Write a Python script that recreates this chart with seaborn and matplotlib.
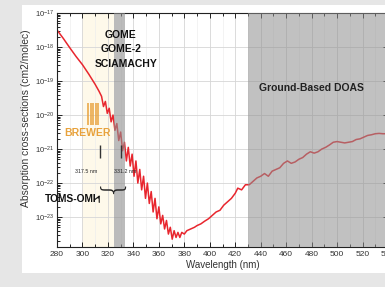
import numpy as np
import pandas as pd
import matplotlib.pyplot as plt
import seaborn as sns
from matplotlib.patches import Rectangle
from matplotlib.ticker import MultipleLocator, LogLocator, LogFormatterMathtext, NullFormatter

# O3 absorption cross-section (log10 of cm2/molec)
wavelength = [280, 285, 290, 295, 300, 305, 310, 313, 315, 316.5, 318, 319.5, 321, 322.5,
              324, 325.5, 327, 328.5, 330, 331.5, 333, 334.5, 336, 337.5, 339, 340.5, 342,
              343.5, 345, 346.5, 348, 349.5, 351, 352.5, 354, 355.5, 357, 358.5, 360, 361.5,
              363, 364.5, 366, 367.5, 369, 370.5, 372, 373.5, 375, 376.5, 378, 380, 382, 385,
              388, 390, 393, 396, 399, 402, 405, 408, 411, 414, 417, 420, 422, 425, 428, 431,
              434, 437, 440, 443, 446, 449, 452, 455, 458, 461, 464, 467, 470, 473, 476, 479,
              482, 485, 488, 491, 494, 497, 500, 503, 506, 509, 512, 515, 518, 521, 524, 527,
              530, 533, 536, 540]
log_sigma = [-17.5, -17.75, -18.02, -18.28, -18.52, -18.8, -19.1, -19.3, -19.45, -19.75,
             -19.6, -19.95, -19.8, -20.2, -20.0, -20.45, -20.25, -20.75, -20.5, -21.05, -20.8,
             -21.35, -20.95, -21.5, -21.15, -21.8, -21.35, -22.0, -21.6, -22.2, -21.8, -22.45,
             -22.0, -22.6, -22.25, -22.85, -22.45, -23.05, -22.7, -23.2, -22.95, -23.35, -23.1,
             -23.5, -23.3, -23.65, -23.4, -23.6, -23.45, -23.6, -23.45, -23.5, -23.4, -23.35,
             -23.3, -23.25, -23.2, -23.12, -23.05, -22.95, -22.85, -22.8, -22.65, -22.55,
             -22.45, -22.3, -22.15, -22.2, -22.05, -22.05, -21.95, -21.85, -21.8, -21.72,
             -21.8, -21.65, -21.6, -21.55, -21.42, -21.35, -21.42, -21.38, -21.3, -21.25,
             -21.15, -21.08, -21.12, -21.08, -21.0, -20.95, -20.88, -20.8, -20.78, -20.8,
             -20.82, -20.8, -20.78, -20.72, -20.7, -20.65, -20.6, -20.58, -20.55, -20.54,
             -20.55, -20.55]

brewer_lines = [304.5, 306.5, 308.5, 310.5, 312.5]
toms_lines = [314, 330]

df = pd.DataFrame({'Wavelength': wavelength, 'Sigma': np.power(10.0, log_sigma)})

sns.set_style("ticks")
plt.rcParams['font.family'] = ['Liberation Sans', 'DejaVu Sans']

fig = plt.figure(figsize=(3.85, 2.87), dpi=100)
fig.patch.set_facecolor('#e6e6e6')
# white panel behind the chart
fig.patches.append(Rectangle((22 / 385, 1 - 273 / 287), 1, (273 - 5) / 287,
                             transform=fig.transFigure, facecolor='white', edgecolor='none', zorder=-5))

ax = fig.add_axes([57 / 385, 1 - 247 / 287, (388 - 57) / 385, (247 - 13) / 287])
ax.set_facecolor('none')
ax.set_zorder(2)

# shaded regions
ax.axvspan(300, 325, color='#fef9ea', zorder=0, lw=0)
ax.axvspan(324.5, 333.5, color='#8f8f8f', alpha=0.6, zorder=3, lw=0)
ax.axvspan(430, 545, color='#8f8f8f', alpha=0.55, zorder=3, lw=0)

sns.lineplot(data=df, x='Wavelength', y='Sigma', color='#e8262e', lw=1.1, ax=ax, zorder=2)

ax.set_yscale('log')
ax.set_xlim(280, 540)
ax.set_ylim(10 ** -23.88, 1e-17)

ax.xaxis.set_major_locator(MultipleLocator(20))
ax.xaxis.set_minor_locator(MultipleLocator(10))
ax.yaxis.set_major_locator(LogLocator(base=10, numticks=20))
ax.yaxis.set_minor_locator(LogLocator(base=10, subs=np.arange(2, 10), numticks=20))
ax.yaxis.set_major_formatter(LogFormatterMathtext())
ax.yaxis.set_minor_formatter(NullFormatter())
ax.tick_params(which='both', direction='in', top=True, right=True, colors='#222222',
               labelcolor='#333333', labelsize=6, width=0.7)
ax.tick_params(which='major', length=3.5, pad=3)
ax.tick_params(which='minor', length=2)
ax.tick_params(axis='y', labelsize=5.5, pad=2)
ax.grid(which='major', color='#d6d6d6', lw=0.6)
ax.grid(which='minor', axis='x', color='#eeeeee', lw=0.5)
ax.set_axisbelow(True)
for s in ax.spines.values():
    s.set_linewidth(0.8)
    s.set_color('#222222')

ax.set_xlabel('Wavelength (nm)', fontsize=7, color='#333333', labelpad=1)
ax.set_ylabel('Absorption cross-sections (cm2/molec)', fontsize=7.4, color='#333333')
ax.yaxis.set_label_coords(-0.079, 0.551)

# instrument annotations
bold = dict(fontweight='bold', ha='center', va='center', zorder=5)
ax.text(330.2, 10 ** -17.65, 'GOME', fontsize=7.5, color='#111111', **bold)
ax.text(330.2, 10 ** -18.06, 'GOME-2', fontsize=7.5, color='#111111', **bold)
ax.text(334, 10 ** -18.5, 'SCIAMACHY', fontsize=7.5, color='#111111', **bold)
ax.text(480, 10 ** -19.2, 'Ground-Based DOAS', fontsize=7.5, color='#222222', **bold)
ax.text(304, 10 ** -20.53, 'BREWER', fontsize=7.5, color='#e8a23c', **bold)
ax.text(290.5, 10 ** -22.48, 'TOMS-OMI', fontsize=7.4, color='#111111', **bold)

ax.vlines(brewer_lines, 10 ** -20.3, 10 ** -19.65, color='#e8a23c', lw=1.1, zorder=5)
ax.vlines(toms_lines, 10 ** -21.26, 10 ** -20.88, color='#333333', lw=1.0, zorder=5)
ax.text(303, 10 ** -21.66, '317.5 nm', fontsize=3.8, ha='center', va='center', zorder=5)
ax.text(333.5, 10 ** -21.66, '331.2 nm', fontsize=3.8, ha='center', va='center', zorder=5)
ax.text(321.6, 10 ** -22.04, '{', fontsize=21, rotation=90, ha='center', va='center',
        family='DejaVu Sans', fontweight='light', zorder=5)
ax.annotate('', xy=(314.5, 10 ** -22.28), xytext=(311.4, 10 ** -22.52),
            arrowprops=dict(arrowstyle='->', lw=0.8, color='#111111'), zorder=5)

plt.savefig('out.png', dpi=100, facecolor=fig.get_facecolor())
